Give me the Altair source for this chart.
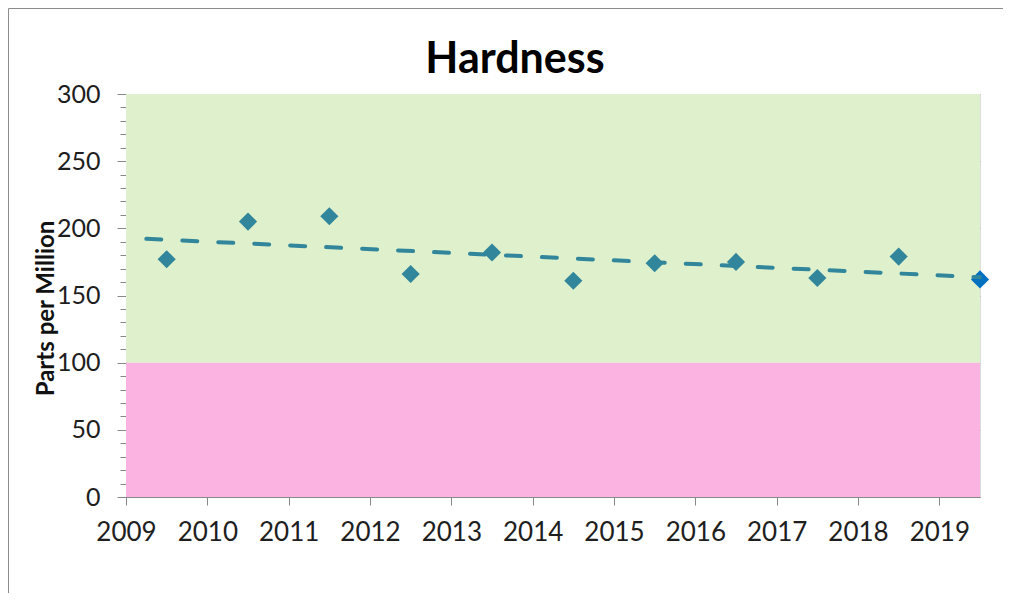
import altair as alt
import pandas as pd

# Data
years = [2009.5, 2010.5, 2011.5, 2012.5, 2013.5, 2014.5, 2015.5, 2016.5, 2017.5, 2018.5, 2019.5]
hardness = [177, 205, 209, 166, 182, 161, 174, 175, 163, 179, 162]
latest_flag = ["no"] * 10 + ["yes"]

band_low = [100, 0]
band_high = [300, 100]
band_name = ["ok", "low"]
band_colors = ["#DEF0CC", "#FBB4E1"]

x_ticks = list(range(2009, 2020))
y_major = [0, 50, 100, 150, 200, 250, 300]
y_minor = list(range(0, 301, 10))

chart_title = ["Hardness"]

FONT = "Lato"
TEAL = "#31869B"
BLUE = "#0070C0"

df = pd.DataFrame({"year": years, "ppm": hardness, "latest": latest_flag})
bands = pd.DataFrame({"lo": band_low, "hi": band_high, "name": band_name})

xscale = alt.Scale(domain=[2009, 2019.5], nice=False, zero=False)
yscale = alt.Scale(domain=[0, 300], nice=False)

x_axis = alt.Axis(values=x_ticks, format="d", title=None, grid=False,
                  tickSize=8, tickColor="#888888", domainColor="#888888",
                  labelFontSize=26, labelFont=FONT, labelColor="#1E1E1E",
                  labelPadding=14, labelFlush=False)

frame = alt.Chart(pd.DataFrame({"t": chart_title})).mark_rect(
    fill="white", fillOpacity=0, stroke="#8C8C8C", strokeWidth=1
).encode(x=alt.value(-117.5), x2=alt.value(1000), y=alt.value(-85.5), y2=alt.value(700))

band_layer = alt.Chart(bands).mark_rect().encode(
    x=alt.value(0), x2=alt.value("width"),
    y=alt.Y("lo:Q", scale=yscale, axis=alt.Axis(
        values=y_major, title="Parts per Million", grid=True,
        gridColor="#6E6E6E", gridOpacity=0.45, gridWidth=1.2,
        tickSize=9, tickColor="#888888", domainColor="#888888",
        labelFontSize=25, labelFont=FONT, labelColor="#1E1E1E",
        labelPadding=17,
        titleFont=FONT, titleFontSize=24, titleFontWeight="bold",
        titleColor="#111111", titleAngle=270, titleX=-80, titleY=214,
        titleAlign="center", titleBaseline="middle")),
    y2="hi:Q",
    color=alt.Color("name:N", scale=alt.Scale(domain=band_name, range=band_colors), legend=None),
)

minor_layer = alt.Chart(pd.DataFrame({"v": y_minor})).mark_tick(opacity=0).encode(
    y=alt.Y("v:Q", scale=yscale, axis=alt.Axis(
        values=y_minor, labels=False, title=None, grid=False, domain=False,
        tickSize=6, tickColor="#888888", orient="left")),
)

trend = alt.Chart(df).transform_regression(
    "year", "ppm", extent=[2009.25, 2019.5]
).mark_line(color=TEAL, strokeWidth=4, strokeDash=[15, 21], strokeCap="round").encode(
    x=alt.X("year:Q", scale=xscale, axis=x_axis),
    y=alt.Y("ppm:Q", scale=yscale, axis=None),
)

points = alt.Chart(df).mark_point(shape="diamond", filled=True, size=330, opacity=1).encode(
    x=alt.X("year:Q", scale=xscale, axis=x_axis),
    y=alt.Y("ppm:Q", scale=yscale, axis=None),
    fill=alt.Fill("latest:N", scale=alt.Scale(domain=["no", "yes"], range=[TEAL, BLUE]), legend=None),
)

title_layer = alt.Chart(pd.DataFrame({"t": chart_title})).mark_text(
    font=FONT, fontSize=43, fontWeight="bold", color="#000000",
    align="center", baseline="alphabetic"
).encode(x=alt.value(389), y=alt.value(-21), text="t:N")

chart = alt.layer(
    frame, band_layer, minor_layer, points, trend, title_layer
).resolve_axis(y="independent").resolve_scale(color="independent", fill="independent").properties(
    width=854, height=403,
    autosize=alt.AutoSizeParams(type="none"),
    padding={"left": 118, "top": 86, "right": 23, "bottom": 96},
).configure_view(stroke=None).configure(background="white")

chart.save("out.html", embed_options={"renderer": "svg", "actions": False})
